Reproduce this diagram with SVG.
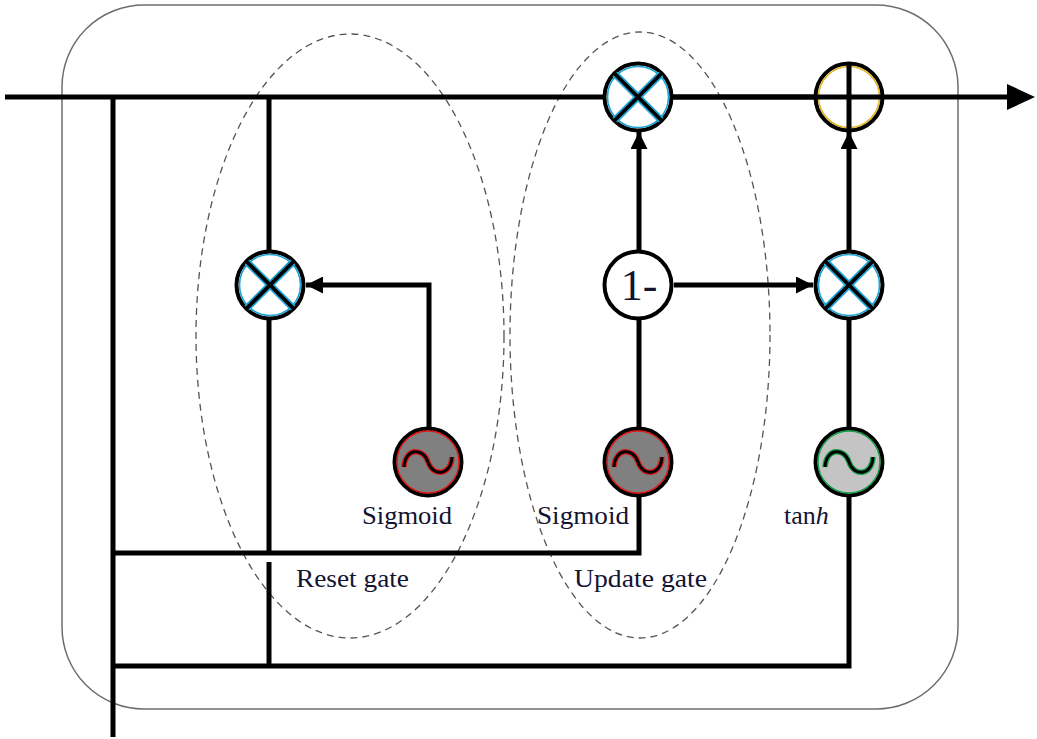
<svg xmlns="http://www.w3.org/2000/svg" width="1037" height="739" viewBox="0 0 1037 739">
  <style>
    .wire { fill: none; stroke: #000; stroke-width: 5; }
    .frame { fill: none; stroke: #6e6e6e; stroke-width: 1.5; }
    .gate { fill: none; stroke: #555; stroke-width: 1.3; stroke-dasharray: 7 5; }
    .ring { stroke: #000; stroke-width: 4; }
    .lbl { font-family: "Liberation Serif", "Times New Roman", serif; font-size: 26px; fill: #141432; }
    .xrim { stroke: #1ea3d6; stroke-width: 7; }
    .xbar { stroke: #000; stroke-width: 3.8; }
  </style>
  <defs>
    <marker id="arrow" viewBox="0 0 10 10" refX="10" refY="5" markerWidth="5.4" markerHeight="3.4" markerUnits="strokeWidth" orient="auto">
      <path d="M0,0 L10,5 L0,10 z" fill="#000"/>
    </marker>
    <!-- multiply symbol: ring with an X -->
    <g id="mul">
      <circle r="33.5" fill="#fff" class="ring"/>
      <circle r="30.5" fill="none" stroke="#1ea3d6" stroke-width="1.6"/>
      <line x1="-23" y1="-23" x2="23" y2="23" class="xrim"/>
      <line x1="-23" y1="23" x2="23" y2="-23" class="xrim"/>
      <line x1="-23.5" y1="-23.5" x2="23.5" y2="23.5" class="xbar"/>
      <line x1="-23.5" y1="23.5" x2="23.5" y2="-23.5" class="xbar"/>
    </g>
    <!-- activation wave -->
    <path id="wave" d="M-24,5 C-23,-14 -5,-15 0,0 C5,15 23,14 24,-5"/>
  </defs>

  <!-- cell frame -->
  <rect x="62" y="5" width="896" height="704" rx="82" ry="82" class="frame"/>

  <!-- gate groupings -->
  <ellipse cx="350" cy="336" rx="154" ry="302" class="gate"/>
  <ellipse cx="640" cy="335" rx="130" ry="303" class="gate"/>

  <g id="connectors">
    <!-- hidden state line -->
    <line x1="5" y1="97" x2="1010" y2="97" class="wire"/>
    <path d="M1007,84 L1035,97 L1007,110 z" fill="#000"/>
    <!-- input / previous state trunk -->
    <line x1="113" y1="97" x2="113" y2="737" class="wire"/>
    <!-- branch to reset multiply -->
    <line x1="269" y1="97" x2="269" y2="252" class="wire"/>
    <line x1="269" y1="318" x2="269" y2="553" class="wire"/>
    <line x1="269" y1="562" x2="269" y2="666" class="wire"/>
    <!-- input bus to update sigmoid -->
    <polyline points="113,553 639,553 639,496" class="wire"/>
    <!-- input bus to tanh -->
    <polyline points="113,666 849,666 849,496" class="wire"/>
    <!-- reset sigmoid to reset multiply -->
    <polyline points="429,427 429,285 306,285" class="wire" marker-end="url(#arrow)"/>
    <!-- update sigmoid to 1- -->
    <line x1="639" y1="427" x2="639" y2="320" class="wire"/>
    <!-- 1- to upper multiply -->
    <line x1="639" y1="250" x2="639" y2="132" class="wire" marker-end="url(#arrow)"/>
    <!-- 1- to right multiply -->
    <line x1="674" y1="285" x2="813" y2="285" class="wire" marker-end="url(#arrow)"/>
    <!-- tanh to right multiply -->
    <line x1="849" y1="427" x2="849" y2="320" class="wire"/>
    <!-- right multiply to sum -->
    <line x1="849" y1="250" x2="849" y2="132" class="wire" marker-end="url(#arrow)"/>
  </g>

  <g id="reset-mul">
    <use href="#mul" x="270" y="285"/>
  </g>

  <g id="update-mul">
    <use href="#mul" x="638" y="97"/>
    <line x1="672" y1="97" x2="815" y2="97" class="wire"/>
  </g>

  <g id="out-mul">
    <use href="#mul" x="849" y="285"/>
  </g>

  <g id="sum">
    <circle cx="849" cy="97" r="33.5" fill="#fff" class="ring"/>
    <circle cx="849" cy="97" r="30.5" fill="none" stroke="#e3b526" stroke-width="1.6"/>
    <line x1="816" y1="97" x2="882" y2="97" class="wire"/>
    <line x1="849" y1="62" x2="849" y2="132" class="wire"/>
  </g>

  <g id="one-minus">
    <circle cx="638" cy="285" r="33.5" fill="#fff" class="ring"/>
    <text x="639" y="300" text-anchor="middle" font-family="Liberation Serif, Times New Roman, serif" font-size="44" fill="#141432">1-</text>
  </g>

  <g id="reset-sigmoid">
    <circle cx="428" cy="462" r="33.5" fill="#808080" class="ring"/>
    <circle cx="428" cy="462" r="31" fill="none" stroke="#e01818" stroke-width="1.5"/>
    <use href="#wave" x="428" y="462" fill="none" stroke="#e01818" stroke-width="5.5"/>
    <use href="#wave" x="428" y="462" fill="none" stroke="#000" stroke-width="3"/>
    <text x="362" y="524" class="lbl" textLength="90" lengthAdjust="spacingAndGlyphs">Sigmoid</text>
  </g>

  <g id="update-sigmoid">
    <circle cx="638" cy="462" r="33.5" fill="#808080" class="ring"/>
    <circle cx="638" cy="462" r="31" fill="none" stroke="#e01818" stroke-width="1.5"/>
    <use href="#wave" x="638" y="462" fill="none" stroke="#e01818" stroke-width="5.5"/>
    <use href="#wave" x="638" y="462" fill="none" stroke="#000" stroke-width="3"/>
    <text x="537" y="524" class="lbl" textLength="92" lengthAdjust="spacingAndGlyphs">Sigmoid</text>
  </g>

  <g id="tanh">
    <circle cx="849" cy="462" r="33.5" fill="#c4c4c4" class="ring"/>
    <circle cx="849" cy="462" r="31" fill="none" stroke="#14a048" stroke-width="1.5"/>
    <use href="#wave" x="849" y="462" fill="none" stroke="#14a048" stroke-width="5.5"/>
    <use href="#wave" x="849" y="462" fill="none" stroke="#000" stroke-width="3"/>
    <text x="784" y="524" class="lbl">tan<tspan font-style="italic">h</tspan></text>
  </g>

  <g id="gate-labels">
    <text x="296" y="587" class="lbl" textLength="113" lengthAdjust="spacingAndGlyphs">Reset gate</text>
    <text x="574" y="587" class="lbl" textLength="133" lengthAdjust="spacingAndGlyphs">Update gate</text>
  </g>
</svg>
